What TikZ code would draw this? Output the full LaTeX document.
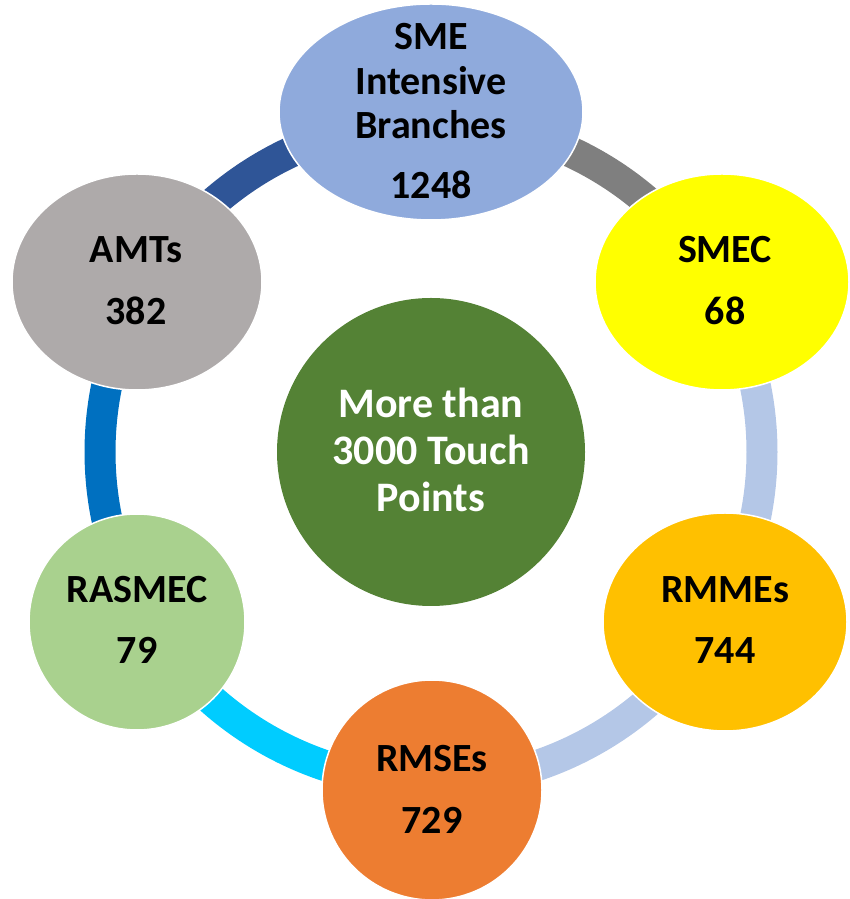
\documentclass[tikz,border=0pt]{standalone}
\usepackage{fontspec}
\setmainfont{Carlito}
\usetikzlibrary{shapes.geometric}
\definecolor{smeblue}{HTML}{8FAADC}
\definecolor{smecyel}{HTML}{FFFF00}
\definecolor{rmmeorg}{HTML}{FFC000}
\definecolor{rmseorg}{HTML}{ED7D31}
\definecolor{rasgreen}{HTML}{A9D18E}
\definecolor{amtgray}{HTML}{AEAAAA}
\definecolor{centgreen}{HTML}{548235}
\definecolor{segdblue}{HTML}{2F5597}
\definecolor{seggray}{HTML}{7F7F7F}
\definecolor{seglblue}{HTML}{B4C7E7}
\definecolor{segcyan}{HTML}{00CCFF}
\definecolor{segblue}{HTML}{0070C0}
\begin{document}
\begin{tikzpicture}[x=1pt,y=1pt,
  blob/.style={ellipse, draw=white, line width=1.5pt, inner sep=0pt},
  lbl/.style={anchor=base, font=\fontsize{40}{45}\selectfont\bfseries, inner sep=0pt},
  clbl/.style={anchor=base, text=white, font=\fontsize{42}{47}\selectfont\bfseries, inner sep=0pt},
  ringseg/.style={line width=31pt}]
\useasboundingbox (0,0) rectangle (849,899);
\coordinate (C) at (431,447);
% ring segments
\draw[ringseg, segdblue] (C) ++(90:331) arc[start angle=90, end angle=150, radius=331];
\draw[ringseg, seggray] (C) ++(30:331) arc[start angle=30, end angle=90, radius=331];
\draw[ringseg, seglblue] (C) ++(-30:331) arc[start angle=-30, end angle=30, radius=331];
\draw[ringseg, seglblue] (C) ++(-90:331) arc[start angle=-90, end angle=-30, radius=331];
\draw[ringseg, segcyan] (C) ++(-150:331) arc[start angle=-150, end angle=-90, radius=331];
\draw[ringseg, segblue] (C) ++(150:331) arc[start angle=150, end angle=210, radius=331];
% ellipses
\node[blob, fill=smeblue, minimum width=304, minimum height=216] (sme) at (431,787) {};
\node[blob, fill=smecyel, minimum width=254, minimum height=216] (smec) at (722,617) {};
\node[blob, fill=amtgray, minimum width=250, minimum height=216] (amt) at (137,617) {};
\node[blob, fill=rmmeorg, minimum width=244, minimum height=218] (rmme) at (725,277) {};
\node[blob, fill=rasgreen, minimum width=216, minimum height=216] (rasmec) at (137,277) {};
\node[blob, fill=rmseorg, minimum width=220, minimum height=220] (rmse) at (432,109) {};
\node[circle, fill=centgreen, minimum size=308, inner sep=0pt] (cent) at (C) {};
% labels
\node[lbl] (t1) at (431,849) {SME};
\node[lbl] (t2) at (431,804) {Intensive};
\node[lbl] (t3) at (431,760) {Branches};
\node[lbl] (t4) at (431,700) {1248};
\node[lbl] (t5) at (725,636) {SMEC};
\node[lbl] (t6) at (725,574) {68};
\node[lbl] (t7) at (136,636) {AMTs};
\node[lbl] (t8) at (136,574) {382};
\node[lbl] (t9) at (725,296) {RMMEs};
\node[lbl] (t10) at (725,235) {744};
\node[lbl] (t11) at (137,296) {RASMEC};
\node[lbl] (t12) at (137,235) {79};
\node[lbl] (t13) at (432,127) {RMSEs};
\node[lbl] (t14) at (432,65) {729};
\node[clbl] (t15) at (431,481) {More than};
\node[clbl] (t16) at (431,434) {3000 Touch};
\node[clbl] (t17) at (431,387) {Points};
\end{tikzpicture}
\end{document}
